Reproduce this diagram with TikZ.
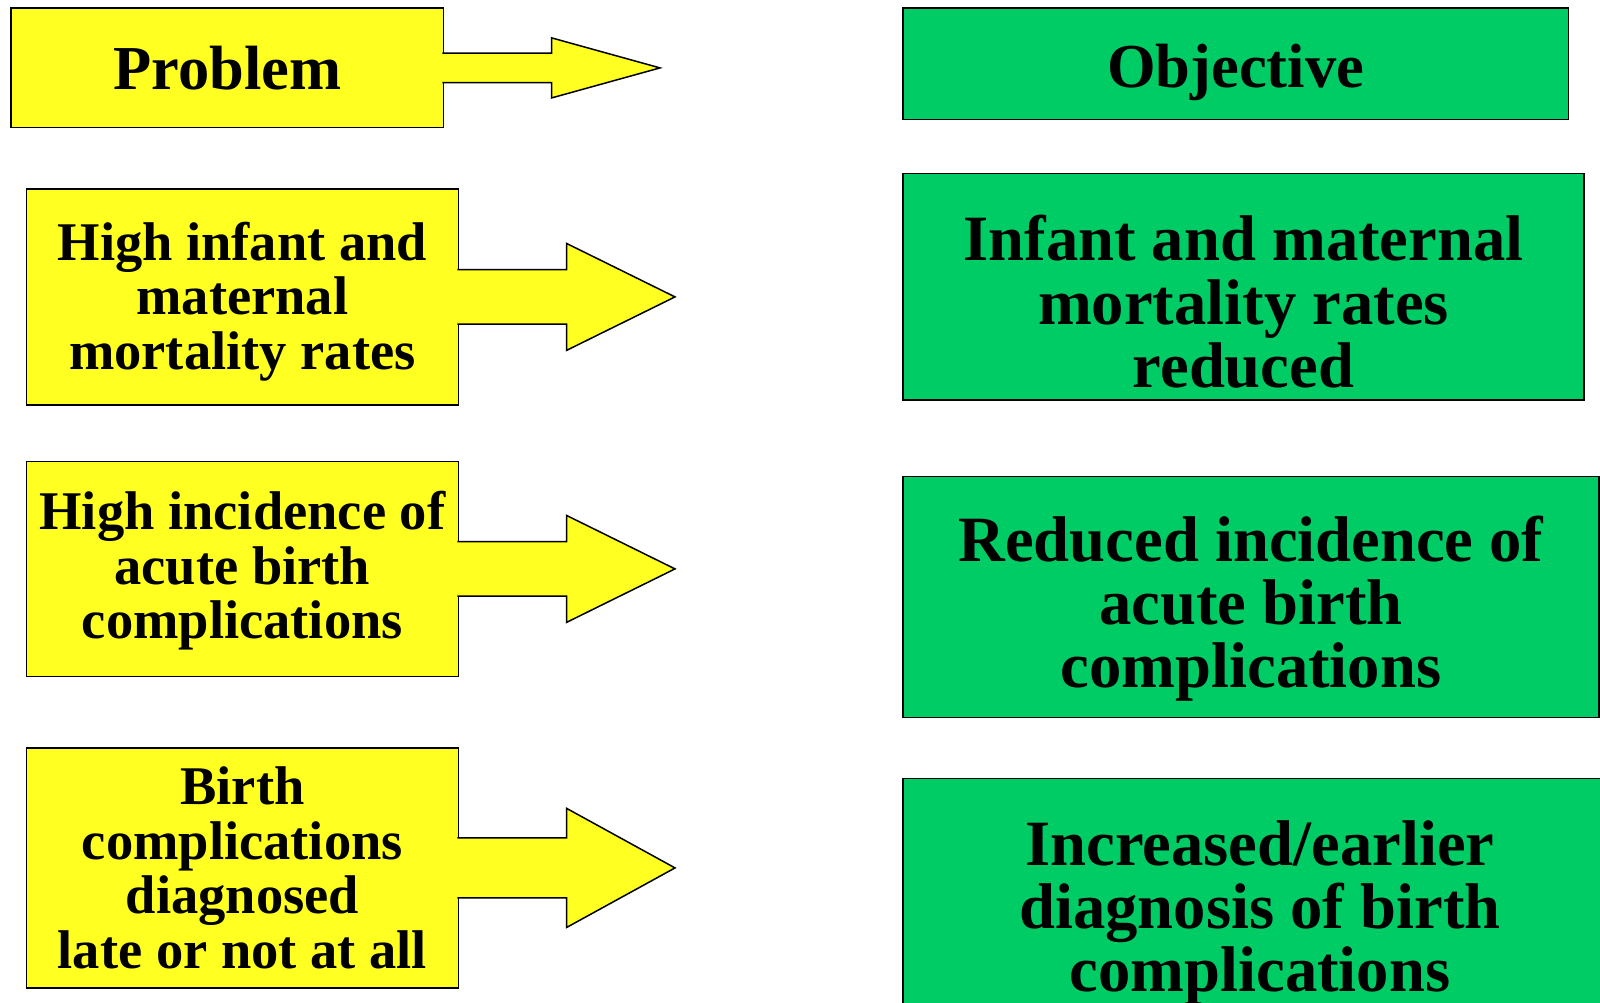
\documentclass[tikz,border=0pt]{standalone}
\usepackage{fontspec}
\setmainfont{Liberation Serif}
\definecolor{problem color}{HTML}{FFFF22}
\definecolor{objective color}{HTML}{00CC66}
\tikzset{
    x={1pt},
    y={-1pt},
    box/.style={
        draw=black,
        line width={1.5pt},
        outer sep=0pt,
        inner sep=0pt,
        align=center,
    },
    problem box/.style={
        box, fill=problem color,
        font={\fontsize{54.5}{54.6}\selectfont\bfseries},
    },
    objective box/.style={
        box, fill=objective color,
        font={\fontsize{64.6}{63.2}\selectfont\bfseries},
    },
    heading/.style={
        font={\fontsize{62.5}{62.5}\selectfont\bfseries},
    },
    problem arrow/.style={
        fill=problem color,
        draw=black,
        line width={1.5pt},
        line join=miter,
    },
}

\begin{document}
\begin{tikzpicture}
\useasboundingbox (0,0) rectangle (1600,1002);
\clip (0,0) rectangle (1600,1002);
% headings
\node[problem box, heading, minimum width={432.1}, minimum height={119.4}] (problem) at (227.25,67.9) {Problem};
\node[objective box, heading, minimum width={665.4}, minimum height={111.2}, text height={61.5}] (objective) at (1235.7,63.8) {Objective};
% problems
\node[problem box, minimum width={431.8}, minimum height={216.2}, text height={156.6}] (mortality) at (242.4,296.9) {High infant and\\maternal\\mortality rates};
\node[problem box, minimum width={431.8}, minimum height={215.3}, text height={151.6}] (incidence) at (242.4,568.9) {High incidence of\\acute birth\\complications};
\node[problem box, minimum width={431.8}, minimum height={239.8}] (diagnosis) at (242.4,867.9) {Birth\\complications\\diagnosed\\late or not at all};
% arrows
\draw[problem arrow] ([xshift=-1pt]problem.east) ++(0,-14.7) -- ++(109.4,0) -- ++(0,-15.3) -- ++(108.3,30) -- ++(-108.3,30) -- ++(0,-15.3) -- ++(-109.4,0);
\draw[problem arrow] ([xshift=-1pt]mortality.east) ++(0,-27.2) -- ++(109.4,0) -- ++(0,-26.2) -- ++(108.3,53.4) -- ++(-108.3,53.4) -- ++(0,-26.2) -- ++(-109.4,0);
\draw[problem arrow] ([xshift=-1pt]incidence.east) ++(0,-27.2) -- ++(109.4,0) -- ++(0,-26.2) -- ++(108.3,53.4) -- ++(-108.3,53.4) -- ++(0,-26.2) -- ++(-109.4,0);
\draw[problem arrow] ([xshift=-1pt]diagnosis.east) ++(0,-30) -- ++(109.4,0) -- ++(0,-29.5) -- ++(108.3,59.5) -- ++(-108.3,59.5) -- ++(0,-29.5) -- ++(-109.4,0);
% objectives
\node[objective box, minimum width={681}, minimum height={226.5}, text height={202}] (mortality goal) at (1243.5,286.75) {Infant and maternal\\mortality rates\\reduced};
\node[objective box, minimum width={696}, minimum height={240.8}, text height={195.6}] (incidence goal) at (1251,596.9) {Reduced incidence of\\acute birth\\complications};
\node[objective box, minimum width={714}, minimum height={257}, text height={183.4}] (diagnosis goal) at (1260,907.1) {Increased/earlier\\diagnosis of birth\\complications};
\end{tikzpicture}
\end{document}
